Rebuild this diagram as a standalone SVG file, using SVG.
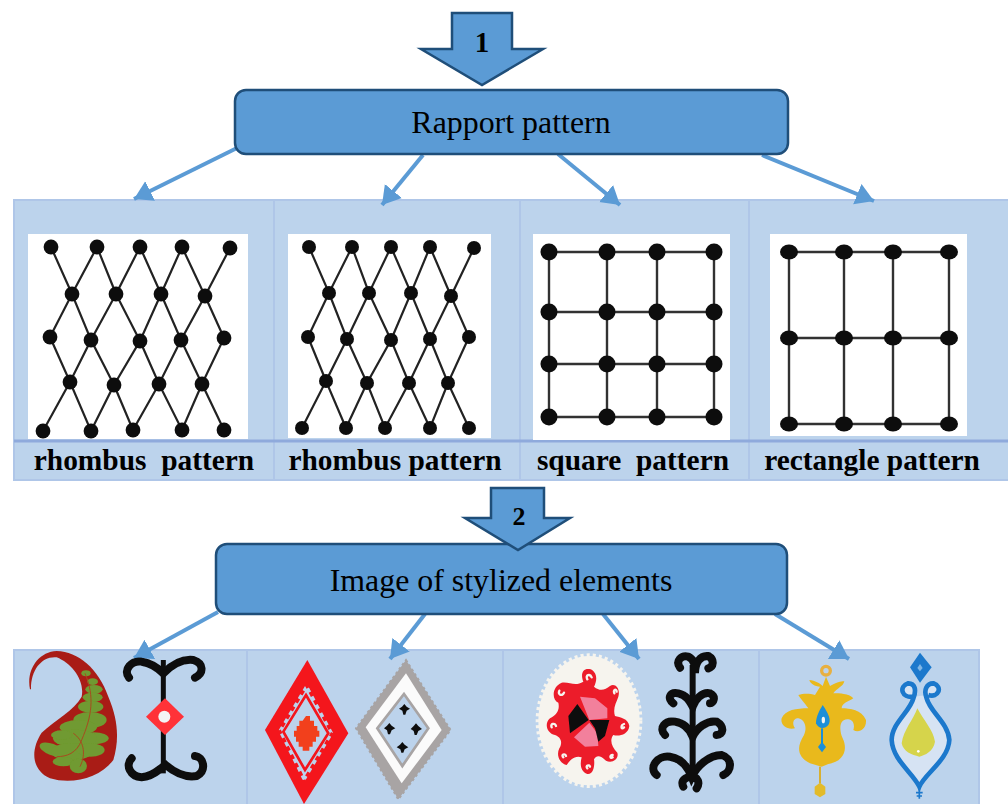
<svg xmlns="http://www.w3.org/2000/svg" width="1008" height="804" viewBox="0 0 1008 804">
<style>
.panel{fill:#bcd3ec;stroke:#afc6e8;stroke-width:2}
.div{stroke:#afc6e8;stroke-width:2;fill:none}
.box{fill:#5b9bd5;stroke:#1f4e79;stroke-width:2.5}
.big{fill:#5b9bd5;stroke:#1f4e79;stroke-width:2.5;stroke-linejoin:miter}
.conn{stroke:#5b9bd5;stroke-width:4;fill:none;marker-end:url(#ah)}
.t{font-family:"Liberation Serif","Times New Roman",serif;fill:#000;text-anchor:middle}
.title{font-size:31.9px}
.num{font-size:29px;font-weight:bold}
.lab{font-size:29.4px;font-weight:bold;white-space:pre}
.white{fill:#fff}
.ln{stroke:#222;stroke-width:2.2;fill:none}
.ln2{stroke:#333;stroke-width:2.4;fill:none}
.soft{filter:url(#soft)}
.blk{fill:none;stroke:#111;stroke-width:24;stroke-linecap:round}
.stem{fill:none;stroke:#111;stroke-width:15}
.curl{fill:none;stroke:#f6f4ee;stroke-width:7;stroke-linecap:round}
</style>
<defs>
<marker id="ah" markerUnits="userSpaceOnUse" markerWidth="22" markerHeight="24" refX="18" refY="11" orient="auto"><path d="M0 0L18 11L0 22Z" fill="#5b9bd5"/></marker>
<filter id="soft" x="-5%" y="-5%" width="110%" height="110%"><feGaussianBlur stdDeviation="0.45"/></filter>
</defs>

<g id="panel-patterns">
<rect class="panel" x="14" y="200" width="996" height="280"/>
<path class="div" d="M274 200V480M520 200V480M749 200V480"/>
<path d="M14 441H1008" stroke="#8faadc" stroke-width="3"/>
</g>
<g id="panel-elements">
<rect class="panel" x="14" y="650" width="965" height="156"/>
<path class="div" d="M247 650V804M503 650V804M759 650V804"/>
</g>

<g id="connectors">
<path class="conn" d="M237 148L134 199"/>
<path class="conn" d="M423 155L382 205"/>
<path class="conn" d="M558 154L620 205"/>
<path class="conn" d="M762 155L874 201"/>
<path class="conn" d="M218 612L134 658"/>
<path class="conn" d="M425 614L390 659"/>
<path class="conn" d="M603 614L639 659"/>
<path class="conn" d="M775 614L849 659"/>
</g>

<g id="node-rapport">
<rect class="box" x="235" y="90" width="553" height="64" rx="11"/>
<text class="t title" x="511" y="133">Rapport pattern</text>
</g>
<g id="step-1">
<path class="big" d="M452 13H512V49H543L482 85L421 49H452Z"/>
<text class="t num" x="482" y="52">1</text>
</g>
<g id="node-elements">
<rect class="box" x="216" y="544" width="571" height="70" rx="11"/>
<text class="t title" x="501" y="591">Image of stylized elements</text>
</g>
<g id="step-2">
<path class="big" d="M491 488H544V518H570L518 550L465 518H491Z"/>
<text class="t num" x="519" y="525" style="font-size:26px">2</text>
</g>

<g id="pattern-rhombus-1">
<rect class="white" x="28" y="234" width="220" height="205"/>
<g class="soft">
<path class="ln" d="M51 247L72 294L97 247L116 294L140 247L161 294L182 247L205 296L230 248M50 337L72 294L91 340L116 294L140 341L161 294L181 340L205 296L224 338M50 337L70 382L91 340L114 385L140 341L159 384L181 340L202 384L224 338M43 431L70 382L91 431L114 385L133 430L159 384L182 430L202 384L224 430"/>
<g fill="#0c0c0c">
<circle cx="51" cy="247" r="7.4"/><circle cx="97" cy="247" r="7.4"/><circle cx="140" cy="247" r="7.4"/><circle cx="182" cy="247" r="7.4"/><circle cx="230" cy="248" r="7.4"/>
<circle cx="72" cy="294" r="7.4"/><circle cx="116" cy="294" r="7.4"/><circle cx="161" cy="294" r="7.4"/><circle cx="205" cy="296" r="7.4"/>
<circle cx="50" cy="337" r="7.4"/><circle cx="91" cy="340" r="7.4"/><circle cx="140" cy="341" r="7.4"/><circle cx="181" cy="340" r="7.4"/><circle cx="224" cy="338" r="7.4"/>
<circle cx="70" cy="382" r="7.4"/><circle cx="114" cy="385" r="7.4"/><circle cx="159" cy="384" r="7.4"/><circle cx="202" cy="384" r="7.4"/>
<circle cx="43" cy="431" r="7.4"/><circle cx="91" cy="431" r="7.4"/><circle cx="133" cy="430" r="7.4"/><circle cx="182" cy="430" r="7.4"/><circle cx="224" cy="430" r="7.4"/>
</g></g>
<text class="t lab" x="144" y="470">rhombus  pattern</text>
</g>

<g id="pattern-rhombus-2">
<rect class="white" x="288" y="234" width="203" height="204"/>
<g class="soft">
<path class="ln" d="M309 247L329 293L352 247L369 293L391 247L411 293L430 247L451 296L474 248M308 337L329 293L347 339L369 293L391 340L411 293L430 339L451 296L469 337M308 337L326 381L347 339L367 383L391 340L409 383L430 339L448 383L469 337M302 428L326 381L346 428L367 383L385 428L409 383L430 428L448 383L469 428"/>
<g fill="#0c0c0c">
<circle cx="309" cy="247" r="7"/><circle cx="352" cy="247" r="7"/><circle cx="391" cy="247" r="7"/><circle cx="430" cy="247" r="7"/><circle cx="474" cy="248" r="7"/>
<circle cx="329" cy="293" r="7"/><circle cx="369" cy="293" r="7"/><circle cx="411" cy="293" r="7"/><circle cx="451" cy="296" r="7"/>
<circle cx="308" cy="337" r="7"/><circle cx="347" cy="339" r="7"/><circle cx="391" cy="340" r="7"/><circle cx="430" cy="339" r="7"/><circle cx="469" cy="337" r="7"/>
<circle cx="326" cy="381" r="7"/><circle cx="367" cy="383" r="7"/><circle cx="409" cy="383" r="7"/><circle cx="448" cy="383" r="7"/>
<circle cx="302" cy="428" r="7"/><circle cx="346" cy="428" r="7"/><circle cx="385" cy="428" r="7"/><circle cx="430" cy="428" r="7"/><circle cx="469" cy="428" r="7"/>
</g></g>
<text class="t lab" x="395" y="470">rhombus pattern</text>
</g>

<g id="pattern-square">
<rect class="white" x="533" y="234" width="197" height="206"/>
<g class="soft">
<path class="ln2" d="M549 252H714M549 312H714M549 364H714M549 417H714M549 252V417M607 252V417M657 252V417M714 252V417"/>
<g fill="#0c0c0c">
<circle cx="549" cy="252" r="8.5"/><circle cx="607" cy="252" r="8.5"/><circle cx="657" cy="252" r="8.5"/><circle cx="714" cy="252" r="8.5"/>
<circle cx="549" cy="312" r="8.5"/><circle cx="607" cy="312" r="8.5"/><circle cx="657" cy="312" r="8.5"/><circle cx="714" cy="312" r="8.5"/>
<circle cx="549" cy="364" r="8.5"/><circle cx="607" cy="364" r="8.5"/><circle cx="657" cy="364" r="8.5"/><circle cx="714" cy="364" r="8.5"/>
<circle cx="549" cy="417" r="8.5"/><circle cx="607" cy="417" r="8.5"/><circle cx="657" cy="417" r="8.5"/><circle cx="714" cy="417" r="8.5"/>
</g></g>
<text class="t lab" x="633" y="470">square  pattern</text>
</g>

<g id="pattern-rectangle">
<rect class="white" x="770" y="234" width="197" height="202"/>
<g class="soft">
<path class="ln2" d="M789 252H949M789 338H949M789 424H949M789 252V424M844 252V424M893 252V424M949 252V424"/>
<g fill="#0c0c0c">
<ellipse cx="789" cy="252" rx="9" ry="7.5"/><ellipse cx="844" cy="252" rx="9" ry="7.5"/><ellipse cx="893" cy="252" rx="9" ry="7.5"/><ellipse cx="949" cy="252" rx="9" ry="7.5"/>
<ellipse cx="789" cy="338" rx="9" ry="7.5"/><ellipse cx="844" cy="338" rx="9" ry="7.5"/><ellipse cx="893" cy="338" rx="9" ry="7.5"/><ellipse cx="949" cy="338" rx="9" ry="7.5"/>
<ellipse cx="789" cy="424" rx="9" ry="7.5"/><ellipse cx="844" cy="424" rx="9" ry="7.5"/><ellipse cx="893" cy="424" rx="9" ry="7.5"/><ellipse cx="949" cy="424" rx="9" ry="7.5"/>
</g></g>
<text class="t lab" x="872" y="470">rectangle pattern</text>
</g>

<g id="elements-1" class="soft" transform="translate(0 640) scale(.33333)">
<path d="M90 148C78 90 115 35 170 33C235 35 295 85 325 170C355 240 358 300 340 360C300 415 215 435 150 415C98 392 88 335 125 278C165 240 222 212 245 170C255 120 215 70 170 52C125 48 92 90 93 148Z" fill="#a91d15"/>
<g fill="#6f9a30">
<ellipse cx="258" cy="100" rx="14" ry="9"/><ellipse cx="278" cy="125" rx="16" ry="10"/><ellipse cx="282" cy="148" rx="26" ry="13"/>
<ellipse cx="278" cy="172" rx="30" ry="14"/><ellipse cx="272" cy="200" rx="38" ry="18"/><ellipse cx="270" cy="240" rx="50" ry="24"/>
<ellipse cx="235" cy="262" rx="56" ry="22"/><ellipse cx="282" cy="295" rx="44" ry="18"/><ellipse cx="225" cy="295" rx="66" ry="26"/>
<ellipse cx="155" cy="328" rx="38" ry="17" transform="rotate(20 155 328)"/><ellipse cx="215" cy="335" rx="62" ry="26"/><ellipse cx="272" cy="330" rx="42" ry="20"/>
<ellipse cx="190" cy="365" rx="32" ry="14"/><ellipse cx="235" cy="378" rx="26" ry="22"/><ellipse cx="185" cy="285" rx="32" ry="14"/>
</g>
<path d="M255 100C285 170 275 230 245 300C230 340 200 350 170 350M220 280C250 300 260 340 240 380" fill="none" stroke="#a84a20" stroke-width="3"/>
<path class="stem" d="M490 60V400"/>
<path class="blk" d="M387 113C368 90 395 60 425 65C460 70 480 90 490 100C505 85 540 55 580 60C612 70 612 100 585 113M395 355C375 375 390 410 425 412C460 410 480 385 497 375C515 390 550 415 590 408C622 390 610 350 585 348"/>
<path d="M495 175L552 230L495 285L438 230Z" fill="#ff3038"/><circle cx="493" cy="230" r="18" fill="#f4f4f4"/>
</g>

<g id="elements-2" class="soft" transform="translate(0 640) scale(.33333)">
<path d="M922 60L1045 280L912 492L795 270Z" fill="#f4141c"/>
<path d="M920 130L1000 280L912 428L835 272Z" fill="#bcd3ec" stroke="#f4141c" stroke-width="16" stroke-dasharray="14 14"/>
<path d="M918 165L985 280L915 390L850 275Z" fill="none" stroke="#f4141c" stroke-width="8"/>
<path d="M918 228H930V242H942V258H952V272H958V290H948V305H938V320H928V332H908V320H896V305H888V290H882V272H890V258H898V242H908Z" fill="#f2401e"/>
<path d="M1218 60L1352 270L1195 478L1068 265Z" fill="#a8a4a4" stroke="#a8a4a4" stroke-width="6" stroke-dasharray="8 8"/>
<path d="M1218 100L1325 270L1205 430L1097 262Z" fill="#fbfbfb"/>
<path d="M1212 162L1285 265L1207 378L1132 265Z" fill="#bcd3ec" stroke="#a8a4a4" stroke-width="8"/>
<g fill="#111">
<path d="M1213 192L1220 200L1230 206L1220 212L1216 224L1210 224L1207 212L1197 206L1206 200Z"/>
<path d="M1168 249L1175 257L1186 265L1175 271L1170 283L1164 283L1161 271L1152 265L1161 257Z"/>
<path d="M1248 250L1255 258L1266 267L1255 273L1250 285L1244 285L1241 273L1232 267L1241 258Z"/>
<path d="M1207 306L1214 314L1225 322L1214 328L1210 338L1204 338L1201 328L1190 322L1200 314Z"/>
</g>
</g>

<g id="elements-3" class="soft" transform="translate(500 640) scale(.33333)">
<ellipse cx="267" cy="242" rx="152" ry="194" fill="#f6f4ee" stroke="#f6f4ee" stroke-width="16" stroke-dasharray="9 9"/>
<path d="M250 125C240 100 250 82 272 88C295 100 290 125 282 140C300 155 315 150 330 138C345 128 362 145 355 170C348 190 338 205 345 228C360 232 385 235 388 258C385 285 355 290 340 285C328 300 335 320 352 338C358 358 335 372 318 362C300 345 290 345 282 358C285 375 280 405 262 402C240 395 240 370 245 352C225 345 210 360 200 375C178 370 168 345 178 325C190 305 180 290 165 285C140 280 132 250 150 235C170 225 180 210 175 188C155 180 155 140 185 128C210 125 225 140 250 125Z" fill="#ec1c2c"/>
<path class="curl" d="M262 118C255 105 270 100 275 112M343 160C338 148 350 146 350 155M372 262C362 272 362 255 372 252M338 352C330 358 328 345 338 345M262 385C255 378 268 372 270 380M190 352C182 345 195 338 198 348M155 262C150 250 165 248 168 258M178 152C172 165 188 170 192 158"/>
<path d="M240 170L285 175L322 205L322 235L268 240ZM268 248L222 292L255 320L295 318L292 280Z" fill="#f2809c"/>
<path d="M266 240L232 192L205 228L210 280ZM268 240L328 240L315 288L295 305L285 265Z" fill="#101010"/>
<path class="stem" d="M578 75V425" style="stroke-width:18"/>
<path class="blk" d="M540 83C525 62 545 45 565 50C585 60 585 80 585 100C585 70 600 45 625 48C645 60 640 80 625 85M520 190C500 175 510 155 535 160C560 165 570 185 578 200C585 180 605 155 630 160C650 170 640 190 630 190M495 285C475 265 495 240 525 245C555 250 570 270 578 290C590 265 620 240 650 245C675 260 670 285 650 285M470 405C445 385 470 345 510 350C545 355 565 385 575 410C590 380 625 345 665 345C700 355 695 395 670 405M550 440C540 420 560 410 575 410C595 410 600 430 590 445"/>
</g>

<g id="elements-4" class="soft" transform="translate(500 640) scale(.33333)">
<circle cx="978" cy="92" r="13" fill="none" stroke="#e8b040" stroke-width="10"/>
<path d="M960 140C945 140 930 130 928 120C945 122 960 130 968 138L978 110L990 138C1005 130 1020 122 1033 124C1030 140 1010 145 1000 160C1020 160 1045 160 1060 175C1045 185 1025 190 1025 205C1050 205 1085 210 1098 240C1100 270 1075 280 1060 270C1065 255 1060 240 1045 238C1020 235 1015 265 1028 295C1045 330 1030 365 985 372L965 380L930 370C890 350 890 320 912 285C922 262 915 240 895 235C880 235 875 250 885 265C860 270 840 255 845 235C855 210 890 205 925 205C915 190 900 175 895 165C910 160 930 160 945 165Z" fill="#e9b91c"/>
<path d="M960 380V430" stroke="#d8b030" stroke-width="6"/><path d="M960 428L976 440V462L960 472L944 462V440Z" fill="#e3bb2c"/>
<path d="M968 195C985 220 995 240 985 255C975 268 955 268 948 250C948 230 958 212 968 195Z" fill="#1a8fd8"/>
<ellipse cx="970" cy="240" rx="5" ry="10" fill="#f4f4f4"/>
<path d="M966 265V310" stroke="#1a8fd8" stroke-width="6"/><path d="M966 305L978 321L966 337L954 321Z" fill="#1a8fd8"/>
<path d="M1240 170C1205 175 1195 140 1225 130C1245 130 1250 150 1240 175C1230 215 1175 250 1175 300C1178 360 1240 400 1258 440C1275 400 1345 360 1348 300C1345 250 1290 215 1280 175C1270 150 1280 130 1300 130C1330 140 1315 175 1285 165" fill="#d6e3f3" stroke="#1a78cc" stroke-width="14"/>
<path d="M1252 205C1270 240 1300 270 1305 305C1300 335 1275 345 1258 350C1235 345 1210 335 1205 310C1210 270 1240 240 1252 205Z" fill="#d6d44c"/>
<circle cx="1255" cy="334" r="4" fill="#fff"/>
<path d="M1260 38L1295 82L1260 128L1230 82Z" fill="#1a78cc"/><path d="M1260 72L1268 84L1260 94L1252 84Z" fill="#7fb6e6"/>
<path d="M1258 440V476M1248 458H1268M1250 468H1266" stroke="#1a78cc" stroke-width="5" fill="none"/>
</g>
</svg>
